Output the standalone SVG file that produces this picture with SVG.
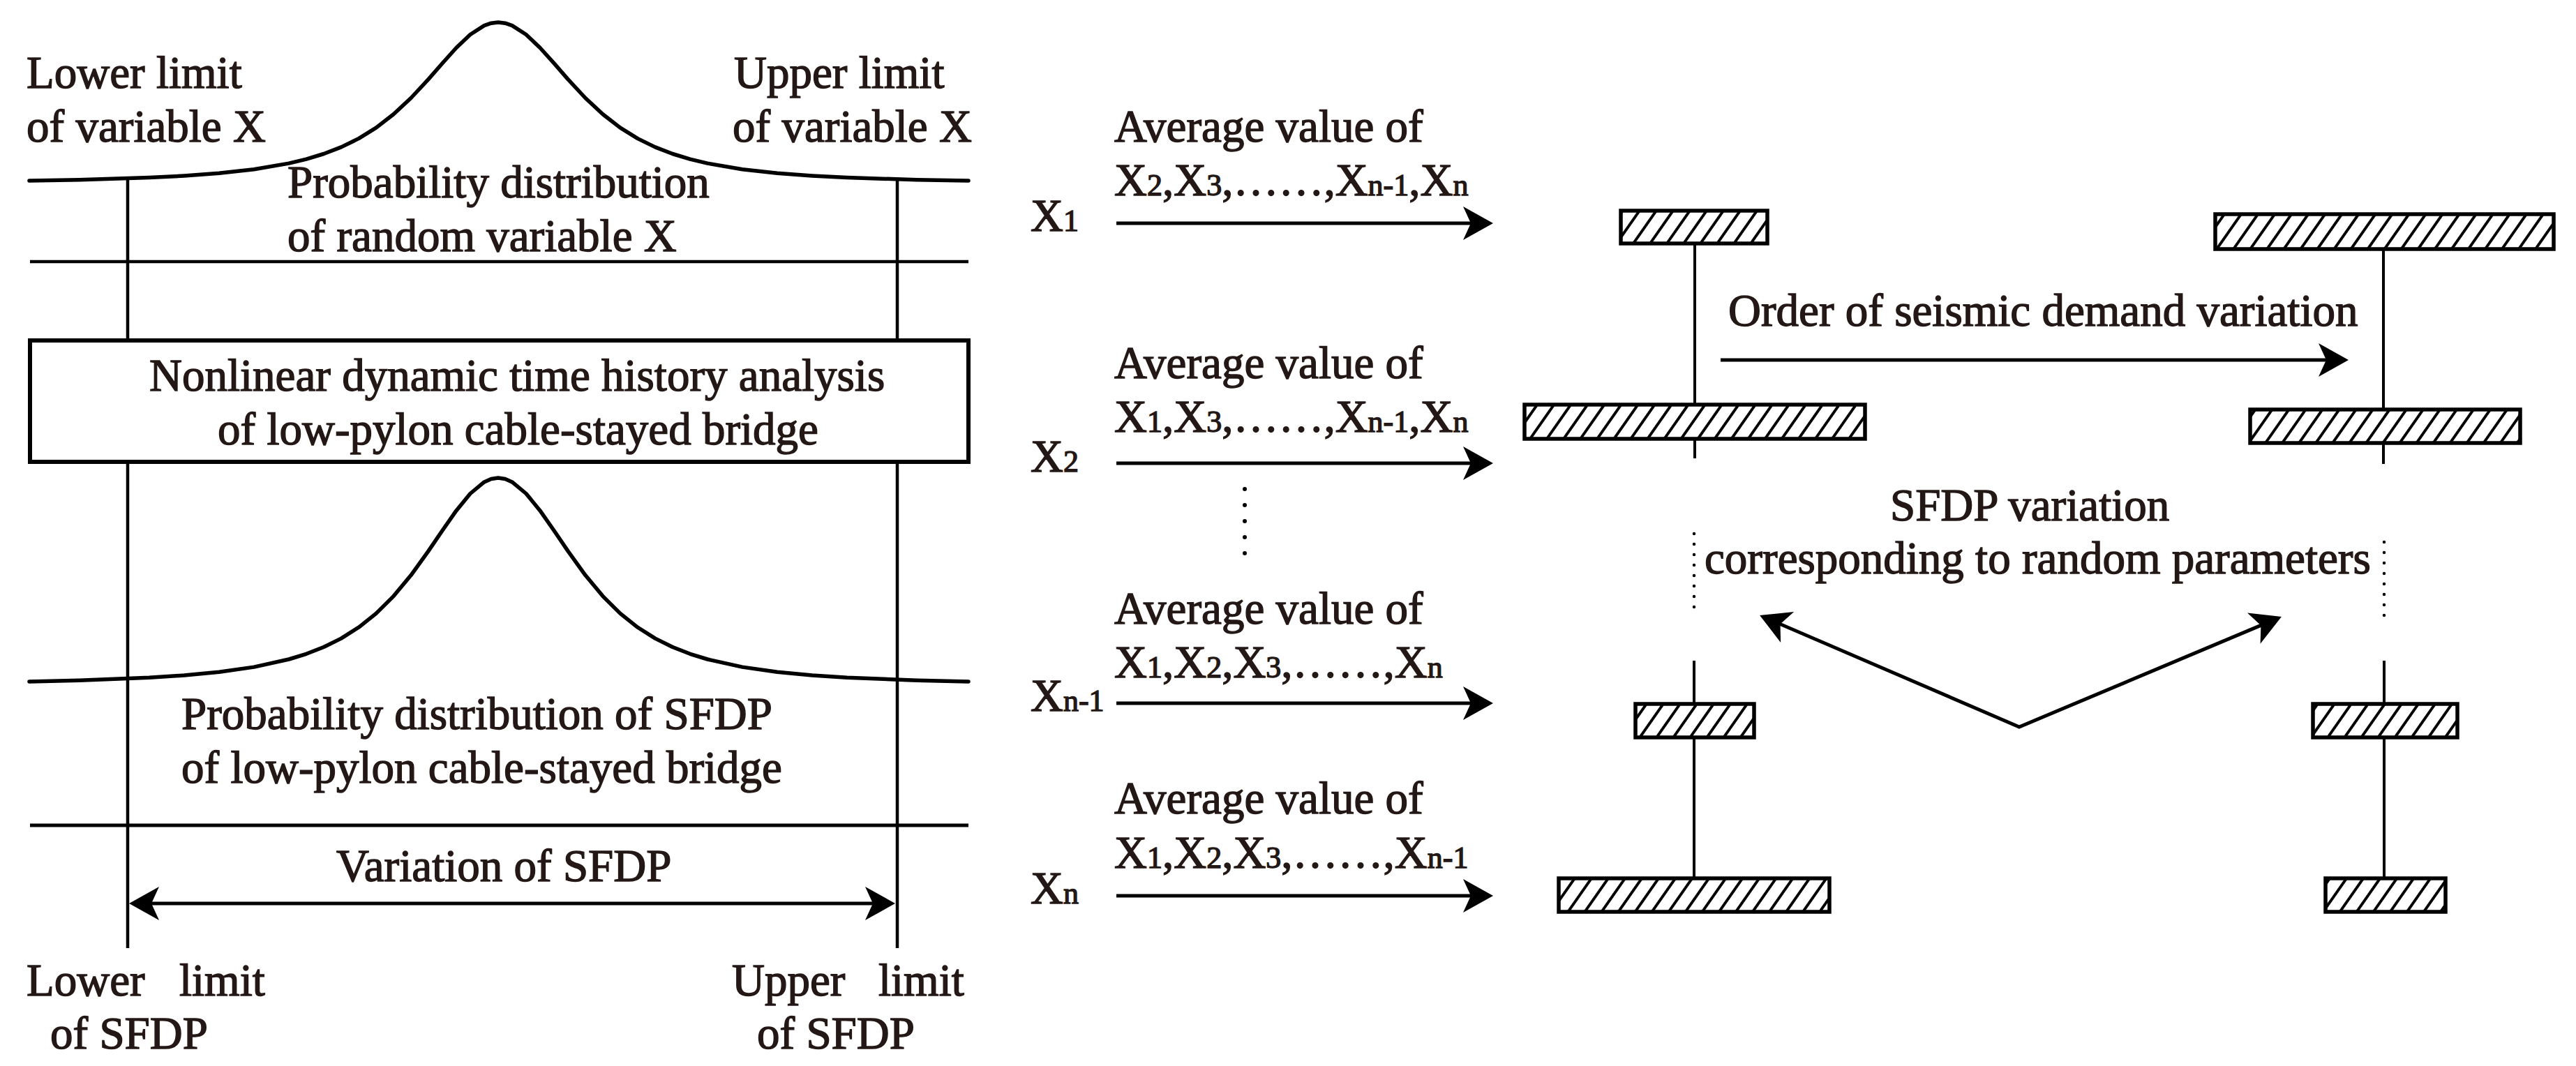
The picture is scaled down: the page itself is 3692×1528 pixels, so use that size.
<svg xmlns="http://www.w3.org/2000/svg" width="3692" height="1528" viewBox="0 0 3692 1528">
<style>
text{font-family:"Liberation Serif","Times New Roman",serif;font-size:65px;fill:#231815;stroke:#231815;stroke-width:1.4px}
.sub{font-size:44px}
.ln{stroke:#000;fill:none}
.curve{stroke:#000;stroke-width:5.5;fill:none;stroke-linejoin:round;stroke-linecap:round}
.hr{fill:url(#hatch);stroke:#000;stroke-width:5.5}
.arr{stroke:#000;stroke-width:5;fill:none;marker-end:url(#ah)}
</style>
<defs>
<pattern id="hatch" patternUnits="userSpaceOnUse" width="19.7" height="20" patternTransform="rotate(35)">
<rect x="0" y="0" width="19.7" height="20" fill="#fff"/>
<line x1="9.85" y1="-5" x2="9.85" y2="25" stroke="#000" stroke-width="4"/>
</pattern>
<marker id="ah" markerUnits="userSpaceOnUse" markerWidth="50" markerHeight="52" viewBox="0 0 50 52" refX="30" refY="26" orient="auto-start-reverse">
<path d="M44,26 L1,2 L12,26 L1,50 Z" fill="#000"/>
</marker>
</defs>
<rect width="3692" height="1528" fill="#fff"/>

<g id="input-distribution">
<polyline class="curve" points="42,259 114,257.7 214,254.6 264,252 314,248.3 364,242.7 414,234.1 439,228.1 464,220.5 489,210.9 514,198.6 539,183.1 564,163.8 589,140.5 614,113.6 634,90.7 654,68.5 674,49.5 694,36.6 704,33.2 714,32 724,33.2 734,36.6 754,49.5 774,68.5 794,90.7 814,113.6 839,140.5 864,163.8 889,183.1 914,198.6 939,210.9 964,220.5 989,228.1 1014,234.1 1064,242.7 1114,248.3 1164,252 1214,254.6 1314,257.7 1388,259"/>
<line class="ln" x1="43" y1="375" x2="1388" y2="375" stroke-width="4.5"/>
<text x="38" y="126">Lower limit</text>
<text x="38" y="203">of variable X</text>
<text x="1052" y="126">Upper limit</text>
<text x="1050" y="203">of variable X</text>
<text x="412" y="283">Probability distribution</text>
<text x="412" y="360">of random variable X</text>
</g>

<g id="analysis-box">
<rect x="43" y="488" width="1345" height="174" fill="#fff" stroke="#000" stroke-width="6"/>
<text x="214" y="560">Nonlinear dynamic time history analysis</text>
<text x="312" y="637">of low-pylon cable-stayed bridge</text>
</g>

<g id="output-distribution">
<polyline class="curve" points="42,977 114,975.3 214,971.3 264,968 314,963.2 364,956.1 414,945 439,937.3 464,927.5 489,915.1 514,899.3 539,879.4 564,854.6 589,824.6 614,789.9 634,760.5 654,731.9 674,707.5 694,690.9 704,686.5 714,685 724,686.5 734,690.9 754,707.5 774,731.9 794,760.5 814,789.9 839,824.6 864,854.6 889,879.4 914,899.3 939,915.1 964,927.5 989,937.3 1014,945 1064,956.1 1114,963.2 1164,968 1214,971.3 1314,975.3 1388,977"/>
<line class="ln" x1="43" y1="1183" x2="1388" y2="1183" stroke-width="5"/>
<text x="260" y="1045">Probability distribution of SFDP</text>
<text x="260" y="1122">of low-pylon cable-stayed bridge</text>
<text x="482" y="1263">Variation of SFDP</text>
<text x="38" y="1427">Lower</text>
<text x="257" y="1427">limit</text>
<text x="72" y="1503">of SFDP</text>
<text x="1049" y="1427">Upper</text>
<text x="1259" y="1427">limit</text>
<text x="1085" y="1503">of SFDP</text>
</g>

<g id="parameter-rows">
<text x="1597" y="203">Average value of</text>
<text x="1597" y="280">X<tspan class="sub">2</tspan>,X<tspan class="sub">3</tspan>,……,X<tspan class="sub">n-1</tspan>,X<tspan class="sub">n</tspan></text>
<text x="1477" y="331">X<tspan class="sub">1</tspan></text>
<text x="1597" y="542">Average value of</text>
<text x="1597" y="619">X<tspan class="sub">1</tspan>,X<tspan class="sub">3</tspan>,……,X<tspan class="sub">n-1</tspan>,X<tspan class="sub">n</tspan></text>
<text x="1477" y="676">X<tspan class="sub">2</tspan></text>
<text x="1597" y="894">Average value of</text>
<text x="1597" y="971">X<tspan class="sub">1</tspan>,X<tspan class="sub">2</tspan>,X<tspan class="sub">3</tspan>,……,X<tspan class="sub">n</tspan></text>
<text x="1477" y="1019">X<tspan class="sub">n-1</tspan></text>
<text x="1597" y="1166">Average value of</text>
<text x="1597" y="1244">X<tspan class="sub">1</tspan>,X<tspan class="sub">2</tspan>,X<tspan class="sub">3</tspan>,……,X<tspan class="sub">n-1</tspan></text>
<text x="1477" y="1295">X<tspan class="sub">n</tspan></text>
</g>

<g id="pier-left-top">
<line class="ln" x1="2429" y1="349" x2="2429" y2="580" stroke-width="4"/>
<line class="ln" x1="2429" y1="629" x2="2429" y2="657" stroke-width="4"/>
<rect class="hr" x="2323" y="302" width="210" height="47"/>
<rect class="hr" x="2185" y="580" width="488" height="49"/>
</g>

<g id="pier-right-top">
<line class="ln" x1="3416" y1="357" x2="3416" y2="587" stroke-width="4"/>
<line class="ln" x1="3416" y1="635" x2="3416" y2="665" stroke-width="4"/>
<rect class="hr" x="3175" y="307" width="485" height="50"/>
<rect class="hr" x="3225" y="587" width="387" height="48"/>
</g>

<g id="pier-left-bottom">
<line class="ln" x1="2428" y1="947" x2="2428" y2="1259" stroke-width="4"/>
<rect class="hr" x="2344" y="1009" width="170" height="48"/>
<rect class="hr" x="2234" y="1259" width="388" height="48"/>
</g>

<g id="pier-right-bottom">
<line class="ln" x1="3417" y1="947" x2="3417" y2="1259" stroke-width="4"/>
<rect class="hr" x="3315" y="1009" width="207" height="48"/>
<rect class="hr" x="3333" y="1259" width="172" height="48"/>
</g>

<g id="right-labels">
<text x="2477" y="467">Order of seismic demand variation</text>
<text x="2709" y="746">SFDP variation</text>
<text x="2443" y="822">corresponding to random parameters</text>
</g>

<g id="connectors">
<line class="ln" x1="183" y1="258" x2="183" y2="488" stroke-width="4.5"/>
<line class="ln" x1="1286" y1="256" x2="1286" y2="488" stroke-width="4.5"/>
<line class="ln" x1="183" y1="662" x2="183" y2="1359" stroke-width="4.5"/>
<line class="ln" x1="1286" y1="662" x2="1286" y2="1359" stroke-width="4.5"/>
<line class="arr" x1="199" y1="1295" x2="1269" y2="1295" marker-start="url(#ah)"/>
<line class="arr" x1="1600" y1="320" x2="2126" y2="320"/>
<line class="arr" x1="1600" y1="664" x2="2126" y2="664"/>
<line class="arr" x1="1600" y1="1008" x2="2126" y2="1008"/>
<line class="arr" x1="1600" y1="1284" x2="2126" y2="1284"/>
<line class="ln" x1="1784" y1="701" x2="1784" y2="816" stroke-width="6" stroke-linecap="round" stroke-dasharray="0 23"/>
<line class="arr" x1="2466" y1="516" x2="3352" y2="516"/>
<line class="ln" x1="2428" y1="765" x2="2428" y2="871" stroke-width="4.5" stroke-linecap="round" stroke-dasharray="0 15"/>
<line class="ln" x1="3417" y1="777" x2="3417" y2="884" stroke-width="4.5" stroke-linecap="round" stroke-dasharray="0 15"/>
<polyline class="ln" points="2535,887.5 2894,1042 3257,889.4" stroke-width="5" stroke-linejoin="miter" marker-start="url(#ah)" marker-end="url(#ah)"/>
</g>
</svg>
